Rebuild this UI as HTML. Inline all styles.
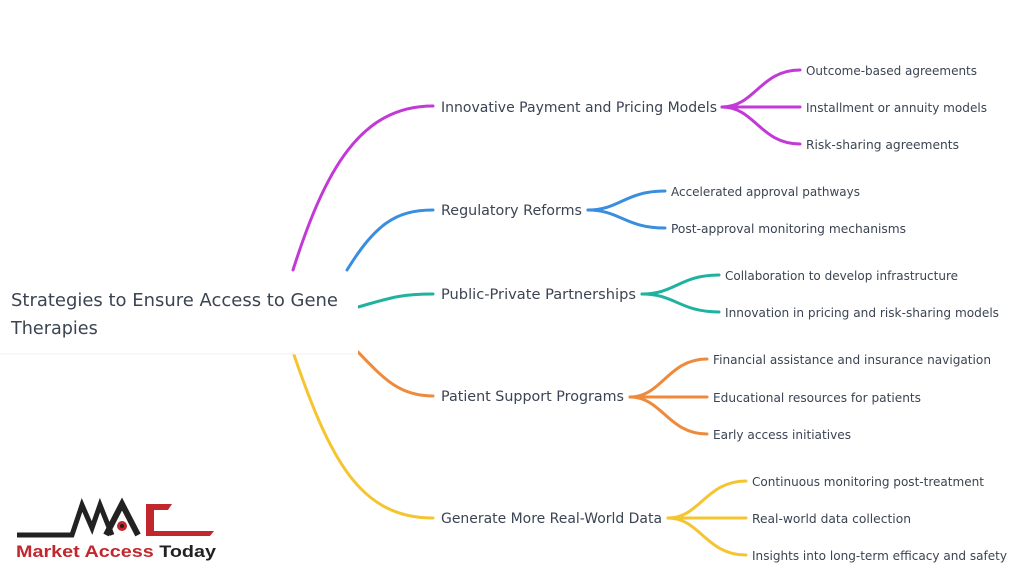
<!DOCTYPE html>
<html><head><meta charset="utf-8"><style>
body{margin:0;background:#fff;width:1024px;height:576px;overflow:hidden;font-family:"DejaVu Sans","Liberation Sans",sans-serif}
svg{position:absolute;left:0;top:0}
</style></head><body>
<svg width="1024" height="576" viewBox="0 0 1024 576">
<g fill="none" stroke-width="3" stroke-linecap="round">
<path d="M293 270 C325 170 360 106 433 106" stroke="#c23ad6"/>
<path d="M347 270 C375 225 395 210 433 210" stroke="#3a8ee0"/>
<path d="M358 307 C390 298 400 294 433 294" stroke="#1fb29f"/>
<path d="M358 352 C385 380 400 396 433 396" stroke="#ee8a3c"/>
<path d="M293 352 C330 460 360 518 433 518" stroke="#f5c531"/>
<g stroke="#c23ad6"><path d="M722 107 H800"/><path d="M722 107 C755 107 760 70 800 70"/><path d="M722 107 C755 107 760 144 800 144"/></g>
<g stroke="#3a8ee0"><path d="M588 210 C620 210 625 191 665 191"/><path d="M588 210 C620 210 625 228 665 228"/></g>
<g stroke="#1fb29f"><path d="M642 294 C675 294 680 275 719 275"/><path d="M642 294 C675 294 680 312 719 312"/></g>
<g stroke="#ee8a3c"><path d="M630 397 H707"/><path d="M630 397 C662 397 668 359 707 359"/><path d="M630 397 C662 397 668 434 707 434"/></g>
<g stroke="#f5c531"><path d="M668 518 H746"/><path d="M668 518 C700 518 706 481 746 481"/><path d="M668 518 C700 518 706 555 746 555"/></g>
</g>
<rect x="0" y="274" width="358" height="80" fill="#fff"/>
<line x1="0" y1="354" x2="358" y2="354" stroke="#f0f0f0"/>
<g fill="#3b4452" font-family="DejaVu Sans, Liberation Sans, sans-serif">
<text x="11" y="306" font-size="17.6" textLength="327" lengthAdjust="spacingAndGlyphs">Strategies to Ensure Access to Gene</text>
<text x="11" y="334" font-size="17.6">Therapies</text>
<g font-size="14">
<text x="441" y="112" textLength="276" lengthAdjust="spacingAndGlyphs">Innovative Payment and Pricing Models</text>
<text x="441" y="215" textLength="141" lengthAdjust="spacingAndGlyphs">Regulatory Reforms</text>
<text x="441" y="299" textLength="195" lengthAdjust="spacingAndGlyphs">Public-Private Partnerships</text>
<text x="441" y="401" textLength="183" lengthAdjust="spacingAndGlyphs">Patient Support Programs</text>
<text x="441" y="523" textLength="221" lengthAdjust="spacingAndGlyphs">Generate More Real-World Data</text>
</g>
<g font-size="12">
<text x="806" y="75" textLength="171" lengthAdjust="spacingAndGlyphs">Outcome-based agreements</text>
<text x="806" y="112" textLength="181" lengthAdjust="spacingAndGlyphs">Installment or annuity models</text>
<text x="806" y="149" textLength="153" lengthAdjust="spacingAndGlyphs">Risk-sharing agreements</text>
<text x="671" y="196" textLength="189" lengthAdjust="spacingAndGlyphs">Accelerated approval pathways</text>
<text x="671" y="233" textLength="235" lengthAdjust="spacingAndGlyphs">Post-approval monitoring mechanisms</text>
<text x="725" y="280" textLength="233" lengthAdjust="spacingAndGlyphs">Collaboration to develop infrastructure</text>
<text x="725" y="317" textLength="274" lengthAdjust="spacingAndGlyphs">Innovation in pricing and risk-sharing models</text>
<text x="713" y="364" textLength="278" lengthAdjust="spacingAndGlyphs">Financial assistance and insurance navigation</text>
<text x="713" y="402" textLength="208" lengthAdjust="spacingAndGlyphs">Educational resources for patients</text>
<text x="713" y="439" textLength="138" lengthAdjust="spacingAndGlyphs">Early access initiatives</text>
<text x="752" y="486" textLength="232" lengthAdjust="spacingAndGlyphs">Continuous monitoring post-treatment</text>
<text x="752" y="523" textLength="159" lengthAdjust="spacingAndGlyphs">Real-world data collection</text>
<text x="752" y="560" textLength="255" lengthAdjust="spacingAndGlyphs">Insights into long-term efficacy and safety</text>
</g>
</g>
<g>
<polyline points="17,535 72,535 82,505 92,528 100,505 112,535" fill="none" stroke="#222" stroke-width="5" stroke-linejoin="miter"/>
<polyline points="106,535 122,504 138,535" fill="none" stroke="#222" stroke-width="6"/>
<circle cx="122" cy="526" r="5" fill="#c1272d"/><circle cx="122" cy="526" r="2" fill="#222"/>
<path d="M146 504 H172 L168 510 H154 V531 H214 L210 536 H146 Z" fill="#c1272d"/>
<text x="16" y="557" font-family="Liberation Sans, sans-serif" font-weight="bold" font-size="16.5" fill="#c1272d" textLength="200" lengthAdjust="spacingAndGlyphs">Market Access <tspan fill="#222">Today</tspan></text>
</g>
</svg>
</body></html>
